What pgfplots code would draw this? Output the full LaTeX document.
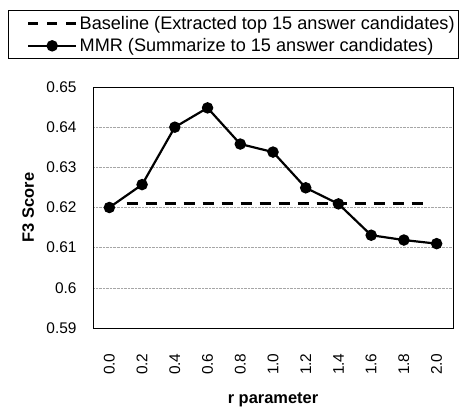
\documentclass[border=0pt]{standalone}
\usepackage{fontspec}
\setmainfont{Liberation Sans}
\usepackage{pgfplots}
\pgfplotsset{compat=1.18}
\begin{document}
\begin{tikzpicture}
\useasboundingbox (-93bp,-84bp) rectangle (369bp,328bp);
\begin{axis}[
  scale only axis,
  width=360bp, height=241bp,
  xmin=-0.5, xmax=10.5,
  ymin=0.59, ymax=0.65,
  xtick={0,1,2,3,4,5,6,7,8,9,10},
  xticklabels={0.0,0.2,0.4,0.6,0.8,1.0,1.2,1.4,1.6,1.8,2.0},
  ytick={0.59,0.6,0.61,0.62,0.63,0.64,0.65},
  yticklabels={0.59,0.6,0.61,0.62,0.63,0.64,0.65},
  major tick length=0pt,
  ticklabel style={font=\fontsize{15.5}{18}\selectfont},
  /pgf/number format/assume math mode=true,
  xticklabel style={rotate=90, anchor=east},
  xticklabel shift=22bp,
  yticklabel shift=13bp,
  ymajorgrids,
  grid style={densely dotted, gray!70, line width=0.6pt},
  axis line style={black, line width=0.9pt},
  xlabel={\textbf{r parameter}},
  ylabel={\textbf{F3 Score}},
  label style={font=\fontsize{16.5}{19}\selectfont},
  xlabel style={at={(axis description cs:0.5,-0.3)}, anchor=center},
  ylabel style={at={(axis description cs:-0.18,0.5)}, anchor=center, rotate=0},
  legend style={at={(axis description cs:-0.2353,1.3195)}, anchor=north west,
    draw=black, line width=0.8pt, font=\fontsize{18.2}{21}\selectfont,
    row sep=4bp, inner xsep=2bp, inner ysep=3.5bp, cells={anchor=west}},
  legend image code/.code={\draw[opacity=0] (0bp,0bp) -- (15bp,0bp);
    \draw[#1, mark repeat=2, mark phase=2] plot coordinates {(16bp,0bp) (40bp,0bp) (64bp,0bp)};},
  legend cell align=left,
]
\addplot[black, line width=3pt, dash pattern=on 11.5bp off 7.5bp, forget plot] coordinates {(0.53,0.6211) (9.76,0.6211)};
\addlegendimage{black, line width=3pt, dash pattern=on 10bp off 9bp}
\addlegendentry{Baseline (Extracted top 15 answer candidates)}
\addplot[black, line width=2.2pt, mark=*, mark size=4.6bp, mark options={solid}] coordinates {
(0,0.6200) (1,0.6257) (2,0.6400) (3,0.6448) (4,0.6358) (5,0.6338)
(6,0.6249) (7,0.6209) (8,0.6131) (9,0.6119) (10,0.6110)};
\addlegendentry{MMR (Summarize to 15 answer candidates)}
\end{axis}
\end{tikzpicture}
\end{document}
